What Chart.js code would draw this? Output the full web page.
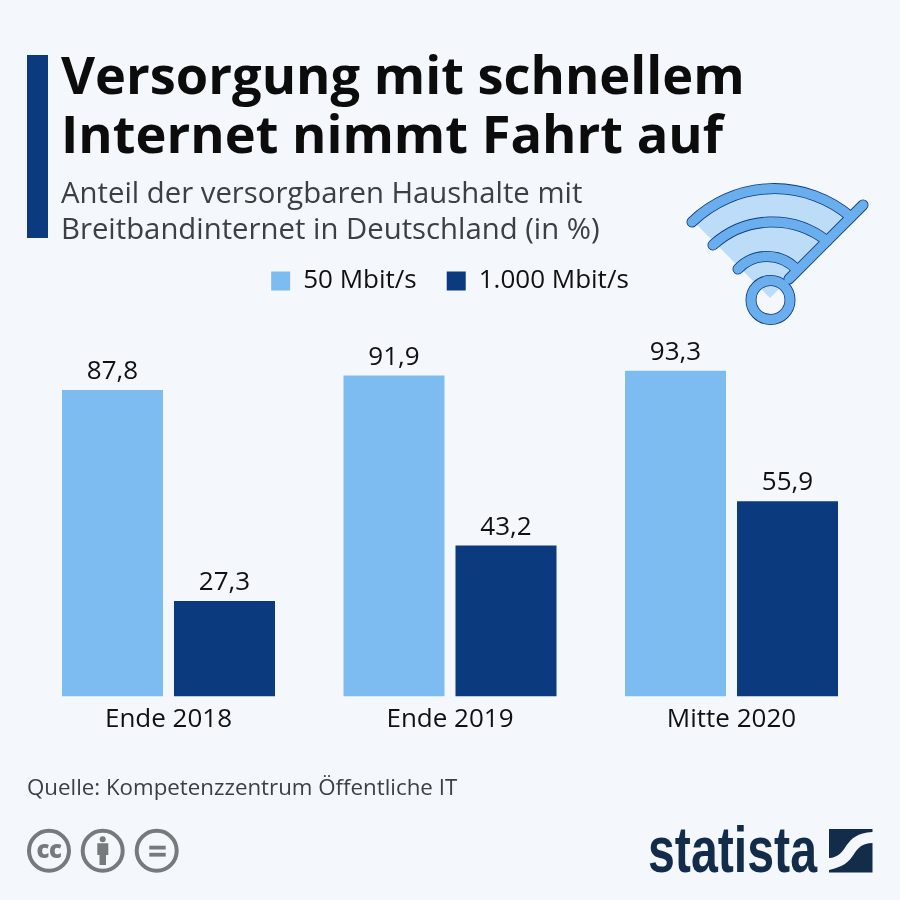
<!DOCTYPE html>
<html lang="de"><head><meta charset="utf-8">
<script src="https://cdn.jsdelivr.net/npm/chart.js@4"></script>
<style>
html,body{margin:0;padding:0;background:#f4f8fc}
#wrap{position:relative;width:900px;height:900px;overflow:hidden;background:#f4f8fc;font-family:"Open Sans",sans-serif}
#wrap canvas{position:absolute;left:0;top:0}
.t{position:absolute;white-space:nowrap}
#bar{position:absolute;left:27px;top:55px;width:21px;height:183px;background:#0b3a7e}
#title{left:61px;top:44px;font-size:52.4px;line-height:59px;font-weight:700;color:#0c0c0c}
#sub{left:61px;top:175px;font-size:29.3px;line-height:35.5px;color:#3c4044}
#src{left:27px;top:773px;font-size:22.3px;line-height:28px;color:#3c4044}
svg{position:absolute;left:0;top:0}
</style></head><body>
<div id="wrap">
<canvas id="c" width="900" height="900"></canvas>
<div id="bar"></div>
<div id="title" class="t">Versorgung mit schnellem<br>Internet nimmt Fahrt auf</div>
<div id="sub" class="t">Anteil der versorgbaren Haushalte mit<br>Breitbandinternet in Deutschland (in %)</div>
<div id="src" class="t">Quelle: Kompetenzzentrum Öffentliche IT</div>
<svg width="900" height="900" viewBox="0 0 900 900" fill="none">
 <path d="M770 298L692 220A118 118 0 0 1 851 217Z" fill="#bcdcf7"/>
 <g stroke-linecap="round" fill="none">
  <g stroke="#0b3a7e" stroke-width="11">
   <path d="M692 222A118 118 0 0 1 851 217"/><path d="M713 245A88 88 0 0 1 827 241"/><path d="M738 269A40 40 0 0 1 797 270"/>
   <path d="M789 279L863 205"/><circle cx="770.500" cy="300" r="19.500"/>
  </g>
  <g stroke="#6aaeee" stroke-width="9.400">
   <path d="M692 222A118 118 0 0 1 851 217"/><path d="M713 245A88 88 0 0 1 827 241"/><path d="M738 269A40 40 0 0 1 797 270"/>
   <path d="M789 279L863 205"/><circle cx="770.500" cy="300" r="19.500"/>
  </g>
 </g>
 <g stroke="#757a7c" stroke-width="4">
  <circle cx="49" cy="850.700" r="20"/><circle cx="102.700" cy="850.700" r="20"/><circle cx="156.700" cy="850.700" r="20"/>
 </g>
 <text x="49" y="857.700" text-anchor="middle" font-family="Open Sans" font-weight="800" font-size="24" fill="#757a7c" letter-spacing="-0.5">cc</text>
 <g fill="#757a7c">
  <circle cx="102.700" cy="839.300" r="3"/><path d="M97.300 843.300H108.300V855H106V865H99.500V855H97.300Z"/>
  <rect x="149.300" y="845.700" width="16.400" height="3.800"/><rect x="149.300" y="852.800" width="16.400" height="3.800"/>
 </g>
 <text x="648" y="872" font-family="Liberation Sans" font-weight="700" font-size="64" fill="#132c4a" textLength="169" lengthAdjust="spacingAndGlyphs">statista</text>
 <path d="M829 829H872.500V832C857 833 852 838 846 846C843 851 838 858 829 858Z" fill="#132c4a"/>
 <path d="M872.500 843C862 843 858 848 854 854C849 862 843 867 829 870V872.500H872.500Z" fill="#132c4a"/>
</svg>
</div>
<script>
const categories = ["Ende 2018", "Ende 2019", "Mitte 2020"];
const seriesNames = ["50 Mbit/s", "1.000 Mbit/s"];
const values50 = [87.8, 91.9, 93.3];
const values1000 = [27.3, 43.2, 55.9];
const colors = ["#7cbcf0", "#0b3a7e"];

const valueLabels = {
  id: "valueLabels",
  afterDatasetsDraw(chart) {
    const ctx = chart.ctx;
    ctx.save();
    ctx.font = '26px "Open Sans"';
    ctx.fillStyle = "#111";
    ctx.textAlign = "center";
    ctx.textBaseline = "alphabetic";
    chart.data.datasets.forEach((ds, i) => {
      chart.getDatasetMeta(i).data.forEach((bar, j) => {
        ctx.fillText(ds.data[j].toFixed(1).replace(".", ","), bar.x, bar.y - 11);
      });
    });
    ctx.restore();
  }
};

new Chart(document.getElementById("c"), {
  type: "bar",
  data: {
    labels: categories,
    datasets: [
      { label: seriesNames[0], data: values50, backgroundColor: colors[0] },
      { label: seriesNames[1], data: values1000, backgroundColor: colors[1] }
    ]
  },
  options: {
    responsive: false,
    animation: false,
    devicePixelRatio: 1,
    layout: { padding: { left: 27.75, right: 27.75, top: 238, bottom: 164.4 } },
    datasets: { bar: { categoryPercentage: 0.7957, barPercentage: 0.902 } },
    scales: {
      x: {
        grid: { display: false },
        border: { display: false },
        ticks: { color: "#111", font: { family: "Open Sans", size: 26 }, padding: 0, maxRotation: 0 }
      },
      y: { display: false, min: 0, max: 112.4 }
    },
    plugins: {
      legend: {
        position: "top",
        align: "center",
        labels: { boxWidth: 19, boxHeight: 19, padding: 30, color: "#111", font: { family: "Open Sans", size: 26 } }
      },
      tooltip: { enabled: false }
    }
  },
  plugins: [valueLabels]
});
</script>
</body></html>
